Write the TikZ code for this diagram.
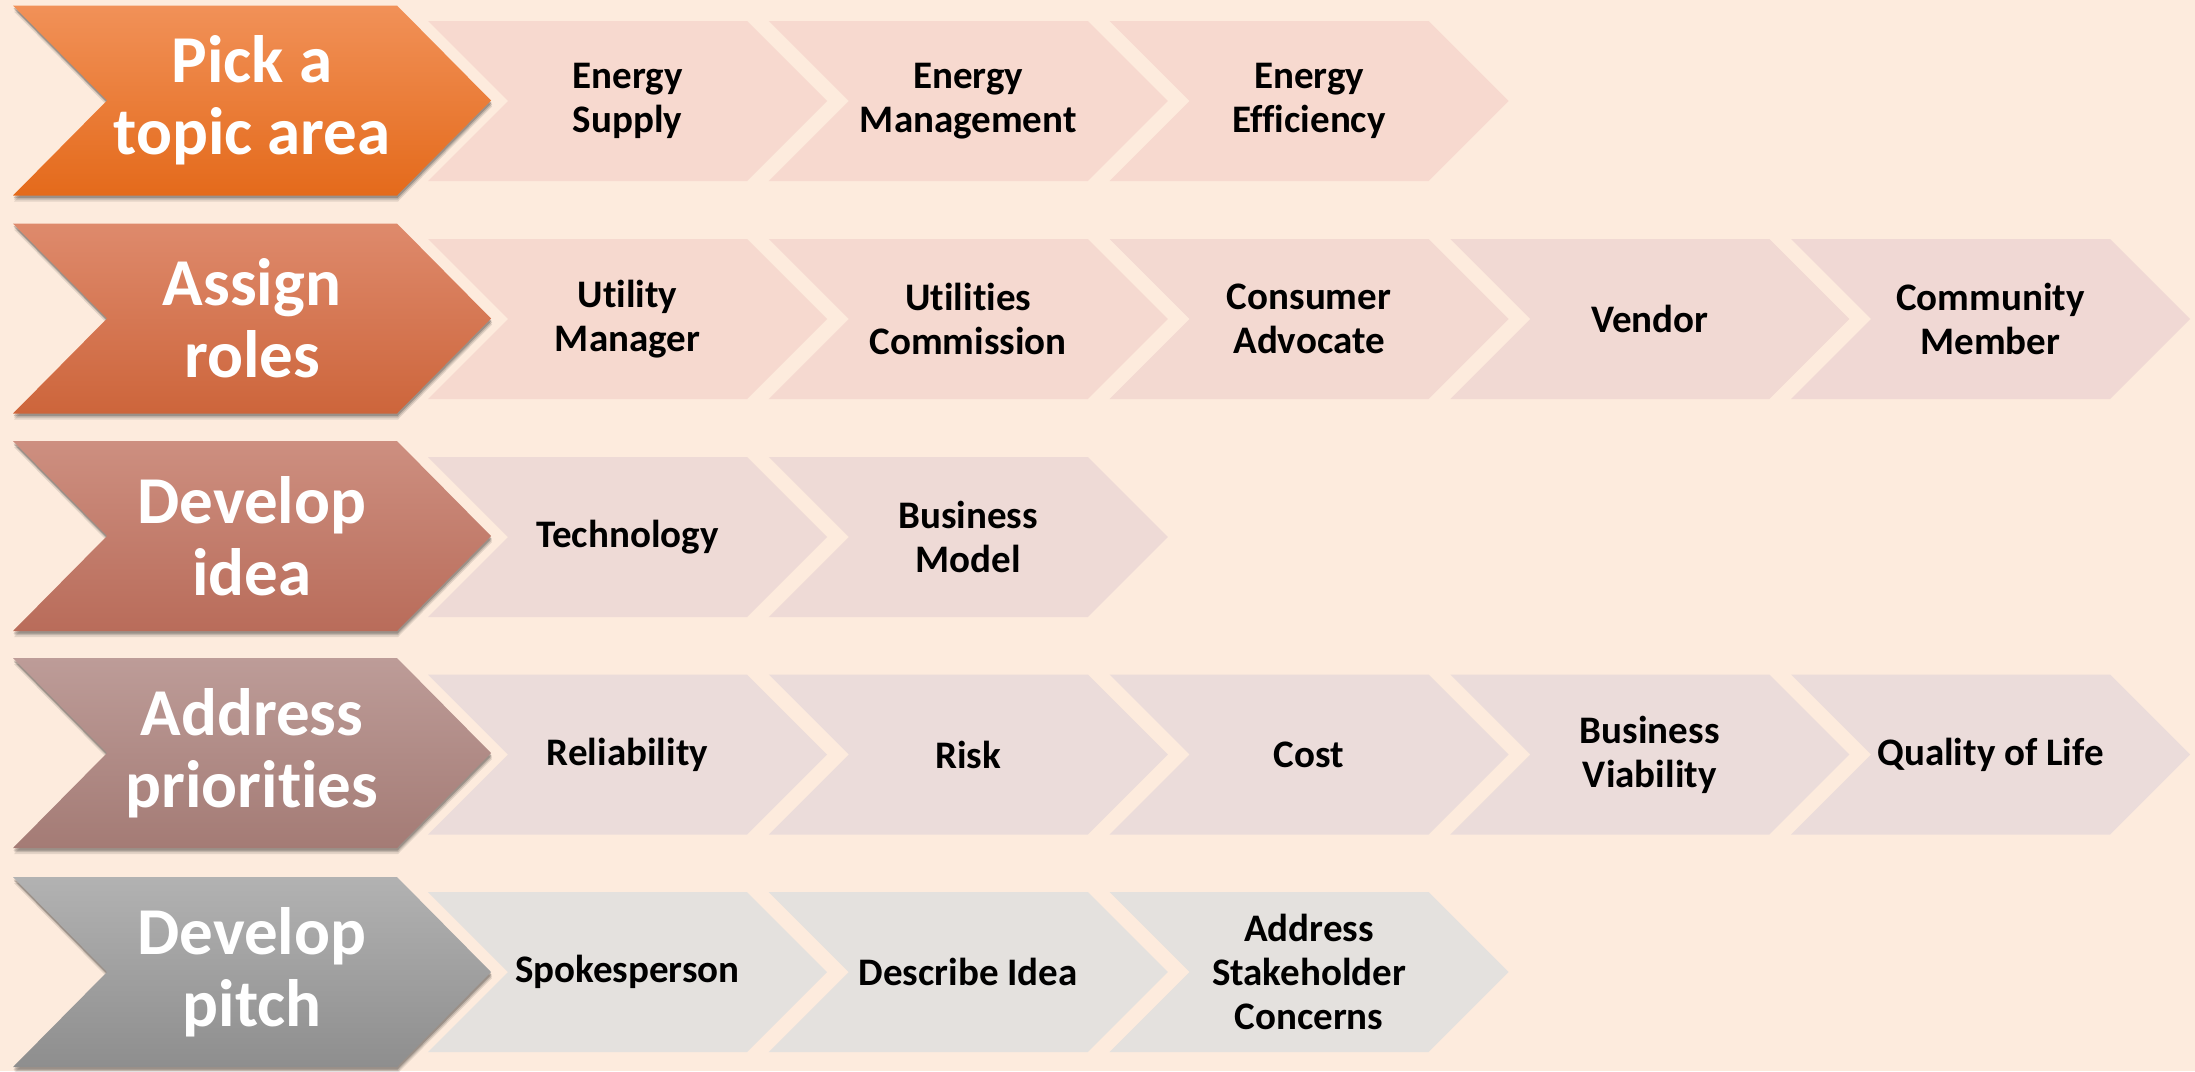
\documentclass[tikz,border=0pt]{standalone}
\usepackage{fontspec}
\setmainfont{Carlito}[Ligatures={NoCommon}]
\definecolor{bg}{HTML}{FDEBDD}
\definecolor{mAt}{HTML}{F19158}\definecolor{mAm}{HTML}{F57D2D}\definecolor{mAb}{HTML}{E46A1B}
\definecolor{mBt}{HTML}{DE8A6C}\definecolor{mBm}{HTML}{DB7551}\definecolor{mBb}{HTML}{CD653B}
\definecolor{mCt}{HTML}{CD8F80}\definecolor{mCm}{HTML}{C67D6C}\definecolor{mCb}{HTML}{B96C5A}
\definecolor{mDt}{HTML}{BD9C98}\definecolor{mDm}{HTML}{B38C87}\definecolor{mDb}{HTML}{A47B75}
\definecolor{mEt}{HTML}{B2B2B2}\definecolor{mEm}{HTML}{A2A2A2}\definecolor{mEb}{HTML}{8E8E8E}
\definecolor{sA}{HTML}{F7D9CF}
\definecolor{sBa}{HTML}{F6D9CF}\definecolor{sBb}{HTML}{F5D9D0}\definecolor{sBc}{HTML}{F3D9D1}
\definecolor{sBd}{HTML}{F1D9D3}\definecolor{sBe}{HTML}{F0D8D4}
\definecolor{sC}{HTML}{EEDAD6}
\definecolor{sD}{HTML}{EBDCDA}
\definecolor{sE}{HTML}{E4E1DE}
\tikzset{
  maintext/.style={text=white, font=\bfseries\fontsize{67}{72}\selectfont, align=center, inner sep=0pt},
  subtext/.style={text=black, font=\bfseries\fontsize{39}{44}\selectfont, align=center, inner sep=0pt},
}
% sub chevron: #1 name, #2 x0, #3 centre y, #4 colour, #5 text
\newcommand\SubChev[5]{%
  \fill[#4] (#2,{#3-80}) -- ({#2+319},{#3-80}) -- ({#2+399},#3) -- ({#2+319},{#3+80})
     -- (#2,{#3+80}) -- ({#2+80},#3) -- cycle;
  \node[subtext] (#1) at ({#2+199.5},#3) {#5};
}
% main chevron path
\newcommand\MainPath[3]{(13+#1,{#2+#3-95}) -- (397+#1,{#2+#3-95}) -- (491+#1,{#2+#3}) -- (397+#1,{#2+#3+95}) -- (13+#1,{#2+#3+95}) -- (107+#1,{#2+#3}) -- cycle}
% #1 name, #2 centre y, #3 top, #4 middle, #5 bottom, #6 text
\newcommand\MainChev[6]{%
  \fill[black,opacity=.10] \MainPath{1}{#2}{6};
  \fill[black,opacity=.14] \MainPath{1}{#2}{4};
  \fill[black,opacity=.20] \MainPath{0.5}{#2}{2.5};
  \shade[top color=#3, middle color=#4, bottom color=#5] \MainPath{0}{#2}{0};
  \node[maintext] (#1) at (252,{#2}) {#6};
}
\begin{document}
\begin{tikzpicture}[x=1pt,y=-1pt]
\fill[bg] (0,0) rectangle (2195,1071);
\useasboundingbox (0,0) rectangle (2195,1071);
% row 1
\SubChev{a1}{428}{101}{sA}{Energy\\Supply}
\SubChev{a2}{768.75}{101}{sA}{Energy\\Management}
\SubChev{a3}{1109.5}{101}{sA}{Energy\\Efficiency}
% row 2
\SubChev{b1}{428}{319}{sBa}{Utility\\Manager}
\SubChev{b2}{768.75}{319}{sBb}{Utilities\\Commission}
\SubChev{b3}{1109.5}{319}{sBc}{Consumer\\Advocate}
\SubChev{b4}{1450.25}{319}{sBd}{Vendor}
\SubChev{b5}{1791}{319}{sBe}{Community\\Member}
% row 3
\SubChev{c1}{428}{537}{sC}{Technology}
\SubChev{c2}{768.75}{537}{sC}{Business\\Model}
% row 4
\SubChev{d1}{428}{754.5}{sD}{Reliability}
\SubChev{d2}{768.75}{754.5}{sD}{Risk}
\SubChev{d3}{1109.5}{754.5}{sD}{Cost}
\SubChev{d4}{1450.25}{754.5}{sD}{Business\\Viability}
\SubChev{d5}{1791}{754.5}{sD}{Quality of Life}
% row 5
\SubChev{e1}{428}{972}{sE}{Spokesperson}
\SubChev{e2}{768.75}{972}{sE}{Describe Idea}
\SubChev{e3}{1109.5}{972}{sE}{Address\\Stakeholder\\Concerns}
% main chevrons
\MainChev{m1}{100.5}{mAt}{mAm}{mAb}{Pick a\\topic area}
\MainChev{m2}{318.5}{mBt}{mBm}{mBb}{Assign\\roles}
\MainChev{m3}{536}{mCt}{mCm}{mCb}{Develop\\idea}
\MainChev{m4}{753}{mDt}{mDm}{mDb}{Address\\priorities}
\MainChev{m5}{972}{mEt}{mEm}{mEb}{Develop\\pitch}
\end{tikzpicture}
\end{document}
